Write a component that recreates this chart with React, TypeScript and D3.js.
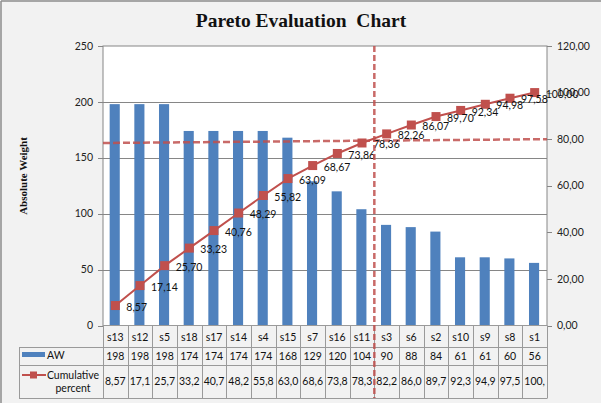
import React from "react";
import * as d3 from "d3";

const categories = ["s13","s12","s5","s18","s17","s14","s4","s15","s7","s16","s11","s3","s6","s2","s10","s9","s8","s1"];
const awValues = [198,198,198,174,174,174,174,168,129,120,104,90,88,84,61,61,60,56];
const cumValues = [8.57,17.14,25.70,33.23,40.76,48.29,55.82,63.09,68.67,73.86,78.36,82.26,86.07,89.70,92.34,94.98,97.58,100.00];
const leftTicks = [0,50,100,150,200,250];
const rightTicks = [0,20,40,60,80,100,120];
const cutoffCategory = "s3";
const thresholdStart = 78.36;
const thresholdEnd = 80;

const W = 601, H = 403;
const PL = 103, PR = 547, PT = 46, PB = 325.5;
const ROW1 = 347, ROW2 = 365, ROW3 = 398, HEADX = 19;
const BLUE = "#4F81BD", RED = "#C0504D", GRID = "#868686", TBL = "#9A9A9A";
const FONT = "Lato, 'Open Sans', sans-serif";

const fmt = (v: number, d = 2) => v.toFixed(d).replace(".", ",");

export default function App() {
  const x = d3.scaleBand<string>().domain(categories).range([PL, PR]).padding(0);
  const yL = d3.scaleLinear().domain([0, 250]).range([PB, PT]);
  const yR = d3.scaleLinear().domain([0, 120]).range([PB, PT]);
  const bw = x.bandwidth();
  const cx = (c: string) => (x(c) as number) + bw / 2;
  const line = d3.line<number>().x((_, i) => cx(categories[i])).y((v) => yR(v));
  const cutX = x(cutoffCategory) as number;
  const boundaries = categories.map((c) => x(c) as number).concat([PR]);

  return (
    <svg width={W} height={H} style={{ position: "absolute", left: 0, top: 0 }} fontFamily={FONT}>
      <rect x={0} y={0} width={W} height={H} fill="#F2F2F2" />
      <line x1={1} y1={1} x2={W} y2={1} stroke="#8C8C8C" strokeWidth={1.5} />
      <line x1={1} y1={1} x2={1} y2={H} stroke="#8C8C8C" strokeWidth={1.5} />

      <text x={301} y={27} textAnchor="middle" fontFamily="'Liberation Serif', 'Times New Roman', serif" fontWeight="bold" fontSize={19.5} fill="#111" style={{ whiteSpace: "pre" }}>
        {"Pareto Evaluation  Chart"}
      </text>

      {/* plot area */}
      <rect x={PL} y={PT} width={PR - PL} height={PB - PT} fill="#fff" stroke={GRID} strokeWidth={1} />
      {leftTicks.filter((t) => t > 0 && t < 250).map((t) => (
        <line key={t} x1={PL} x2={PR} y1={Math.round(yL(t)) + 0.5} y2={Math.round(yL(t)) + 0.5} stroke={GRID} strokeWidth={1} />
      ))}

      {/* left axis */}
      {leftTicks.map((t) => (
        <g key={t}>
          <line x1={PL - 5} x2={PL} y1={Math.round(yL(t)) + 0.5} y2={Math.round(yL(t)) + 0.5} stroke={GRID} />
          <text x={93} y={yL(t)} dy="0.35em" textAnchor="end" fontSize={10.5} fill="#222">{t}</text>
        </g>
      ))}
      <text transform={`translate(27,176) rotate(-90)`} textAnchor="middle" fontFamily="'Liberation Serif', 'Times New Roman', serif" fontWeight="bold" fontSize={11} fill="#111">
        Absolute Weight
      </text>

      {/* right axis */}
      {rightTicks.map((t) => (
        <g key={t}>
          <line x1={PR} x2={PR + 5} y1={Math.round(yR(t)) + 0.5} y2={Math.round(yR(t)) + 0.5} stroke={GRID} />
          <text x={557} y={yR(t)} dy="0.35em" textAnchor="start" fontSize={10.5} fill="#222">{fmt(t)}</text>
        </g>
      ))}

      {/* bars */}
      {categories.map((c, i) => (
        <rect key={c} x={(x(c) as number) + bw * 0.27} width={bw * 0.41} y={yL(awValues[i])} height={PB - yL(awValues[i])} fill={BLUE} />
      ))}

      {/* threshold lines */}
      <line x1={PL} x2={PR} y1={yR(thresholdStart)} y2={yR(thresholdEnd)} stroke={RED} strokeOpacity={0.85} strokeWidth={2.5} strokeDasharray="7,3" />

      {/* cumulative line */}
      <path d={line(cumValues) || ""} fill="none" stroke={RED} strokeWidth={2} />
      {cumValues.map((v, i) => (
        <rect key={i} x={cx(categories[i]) - 4.5} y={yR(v) - 4.5} width={9} height={9} fill={RED} />
      ))}
      {cumValues.map((v, i) => (
        <text key={"l" + i} x={cx(categories[i]) + 11} y={yR(v) + 1.5} dy="0.35em" fontSize={10.5} fill="#111">{fmt(v)}</text>
      ))}

      {/* data table */}
      <line x1={PL} x2={PR} y1={PB} y2={PB} stroke={TBL} />
      {[ROW1, ROW2, ROW3].map((yy) => (
        <line key={yy} x1={HEADX} x2={PR} y1={yy + 0.5} y2={yy + 0.5} stroke={TBL} />
      ))}
      <line x1={HEADX + 0.5} x2={HEADX + 0.5} y1={ROW1} y2={ROW3 + 0.5} stroke={TBL} />
      {boundaries.map((bx, i) => (
        <line key={i} x1={Math.round(bx) + 0.5} x2={Math.round(bx) + 0.5} y1={PB} y2={ROW3 + 0.5} stroke={TBL} />
      ))}
      {categories.map((c, i) => (
        <g key={c} fontSize={10.5} fill="#111" textAnchor="middle">
          <text x={cx(c)} y={(PB + ROW1) / 2 + 1} dy="0.35em">{c}</text>
          <text x={cx(c)} y={(ROW1 + ROW2) / 2 + 0.5} dy="0.35em">{awValues[i]}</text>
          <text x={cx(c)} y={(ROW2 + ROW3) / 2} dy="0.35em">{fmt(cumValues[i]).slice(0, 4)}</text>
        </g>
      ))}

      {/* legend keys */}
      <rect x={22} y={352} width={23} height={5} fill={BLUE} />
      <text x={47} y={355} dy="0.35em" fontSize={10.5} fill="#111">AW</text>
      <line x1={22} x2={46} y1={375} y2={375} stroke={RED} strokeWidth={2} />
      <rect x={30} y={371.5} width={7} height={7} fill={RED} />
      <text x={73} y={375} dy="0.35em" textAnchor="middle" fontSize={10.5} fill="#111">Cumulative</text>
      <text x={73} y={388.5} dy="0.35em" textAnchor="middle" fontSize={10.5} fill="#111">percent</text>

      {/* cutoff vertical line */}
      <line x1={cutX} x2={cutX} y1={PT} y2={ROW3} stroke={RED} strokeOpacity={0.85} strokeWidth={2.5} strokeDasharray="6,3" />
    </svg>
  );
}
